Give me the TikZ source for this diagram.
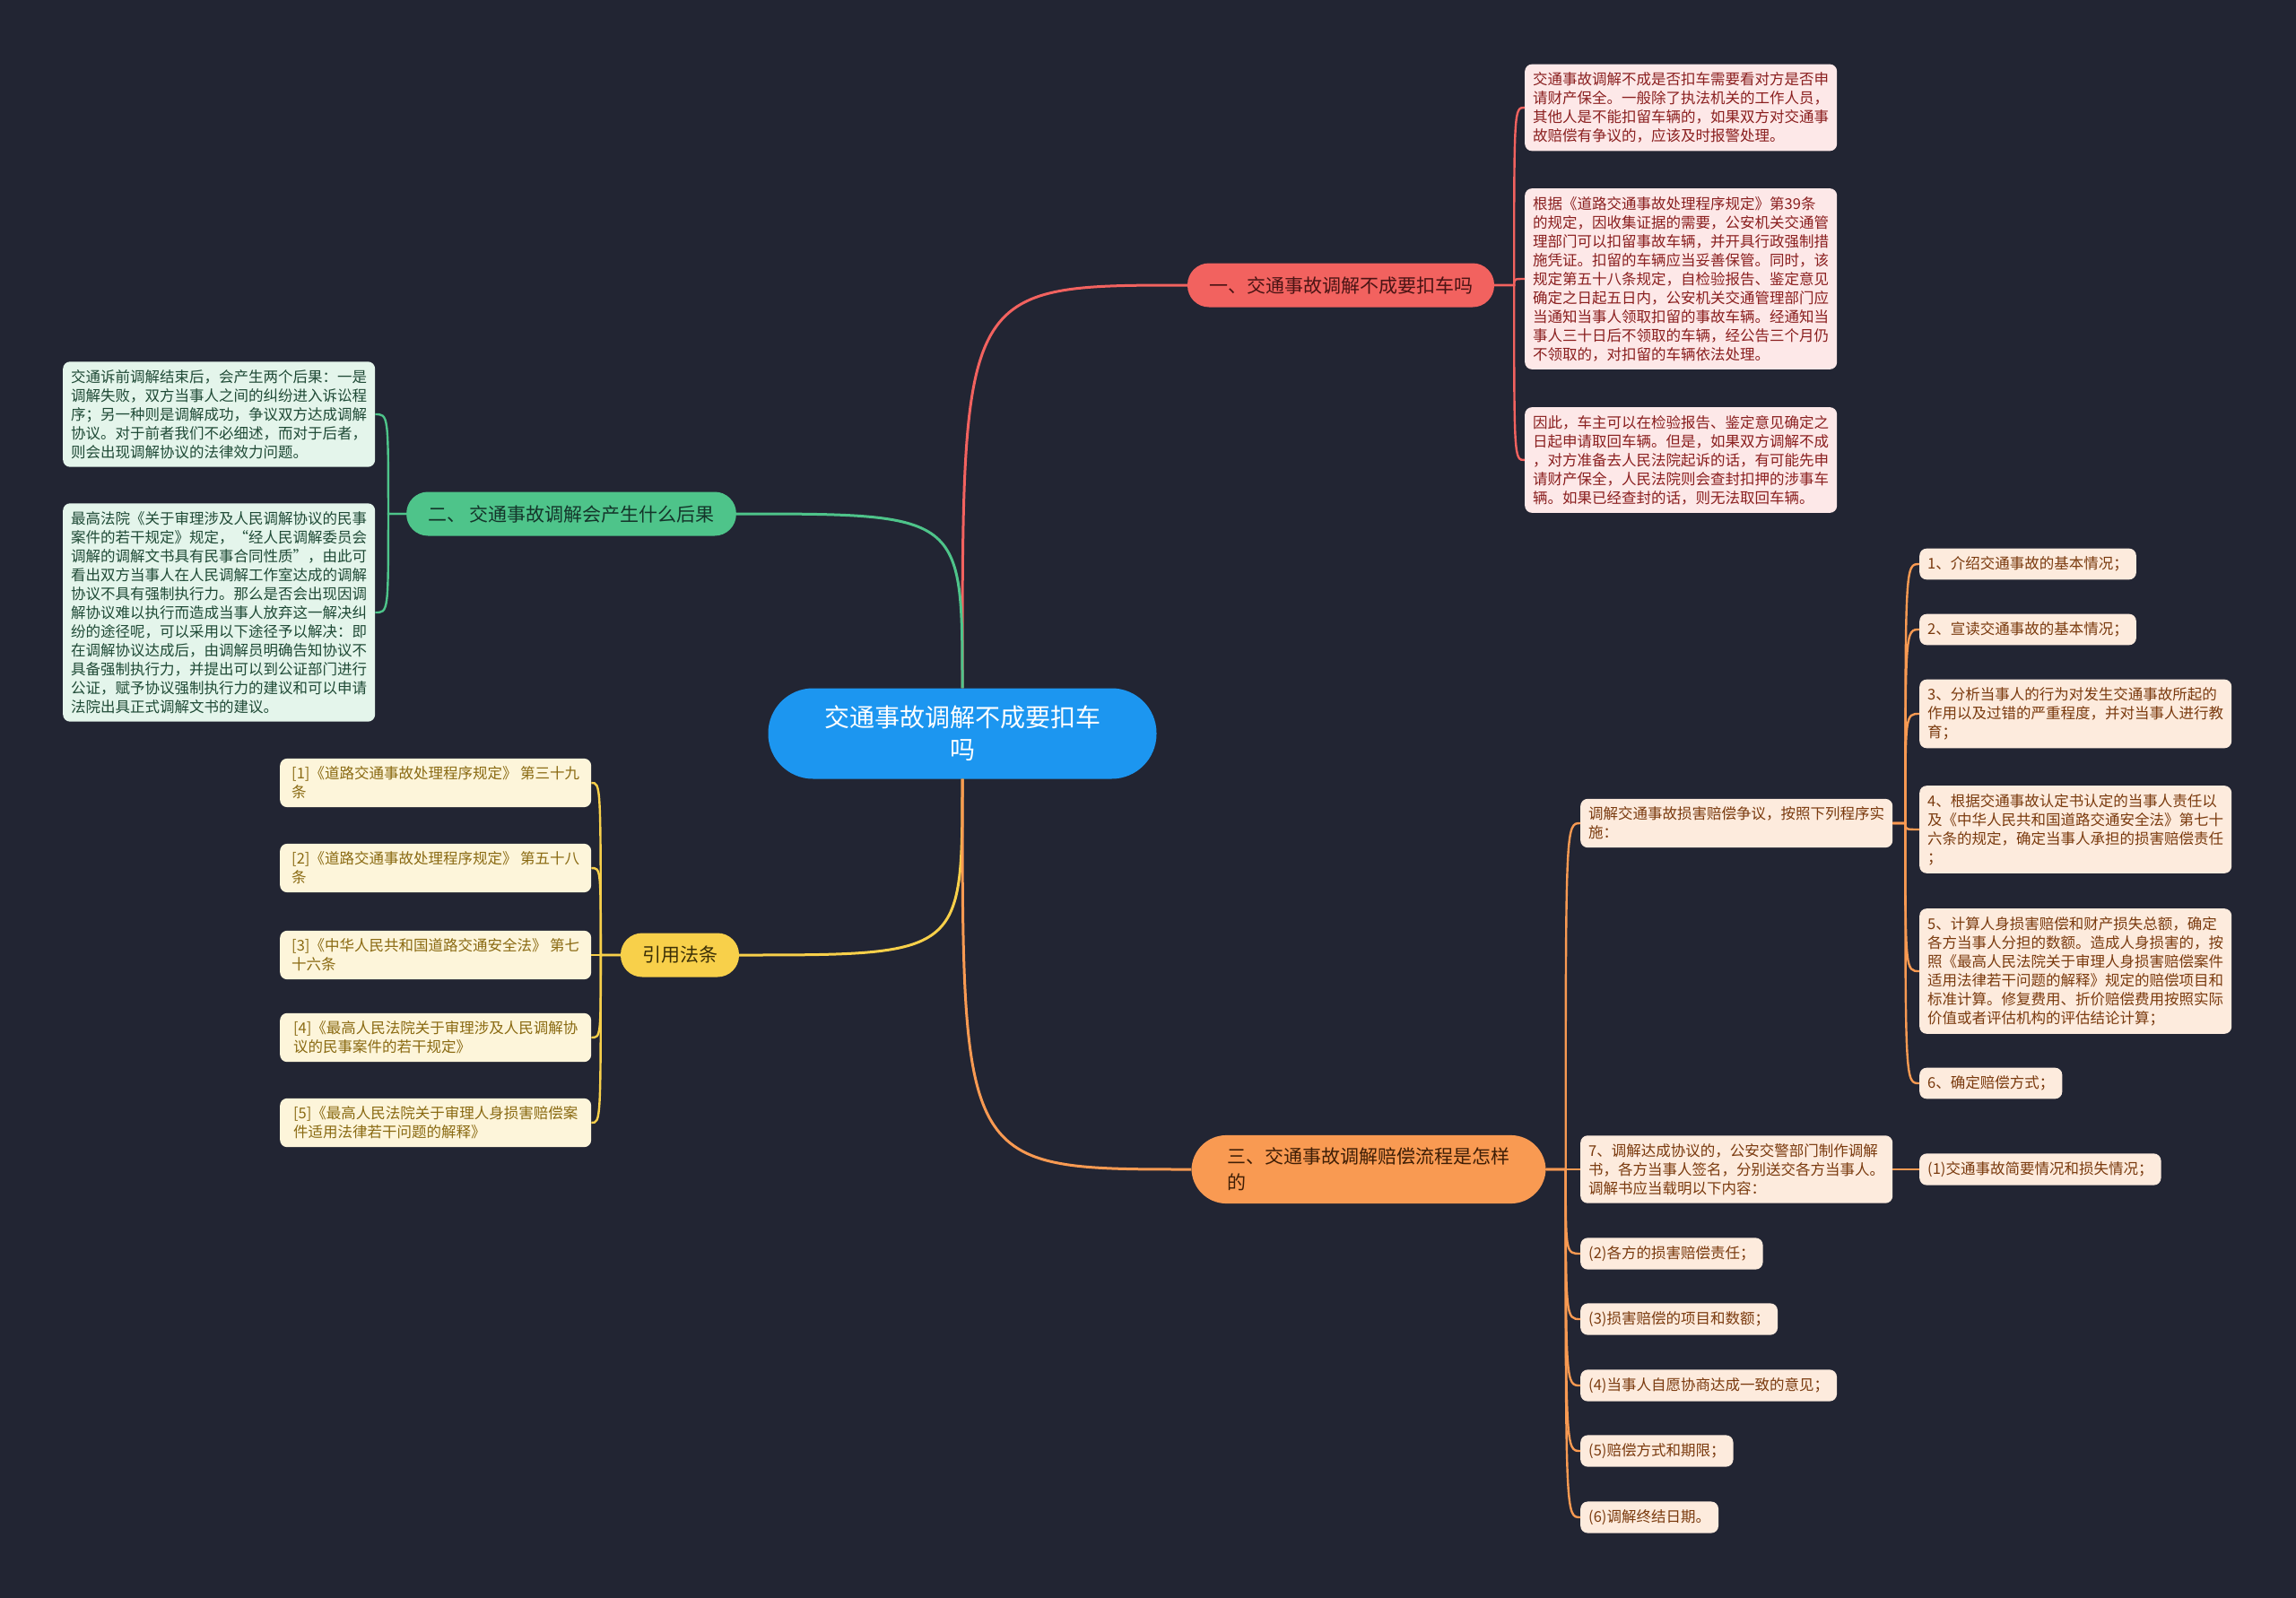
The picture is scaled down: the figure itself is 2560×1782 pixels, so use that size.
\documentclass[tikz,border=0pt]{standalone}
\usepackage{fontspec}
\usepackage{tikz}
\usetikzlibrary{positioning,calc}
\newfontfamily\cjk{Noto Sans CJK SC}
\definecolor{bgdark}{HTML}{222533}
\definecolor{rootblue}{HTML}{1C96F0}
\definecolor{redmain}{HTML}{F2625F}
\definecolor{redlight}{HTML}{FDE8E8}
\definecolor{redtext}{HTML}{8A1F1F}
\definecolor{reddark}{HTML}{4A1414}
\definecolor{greenmain}{HTML}{4EC48A}
\definecolor{greenlight}{HTML}{E4F5EB}
\definecolor{greentext}{HTML}{1F4A36}
\definecolor{greendark}{HTML}{14352A}
\definecolor{goldmain}{HTML}{F8D04A}
\definecolor{goldlight}{HTML}{FDF5DA}
\definecolor{goldtext}{HTML}{8A6A12}
\definecolor{golddark}{HTML}{3B2F06}
\definecolor{orangemain}{HTML}{F99A52}
\definecolor{orangelight}{HTML}{FDEBDD}
\definecolor{orangetext}{HTML}{7A3A0E}
\definecolor{orangedark}{HTML}{3E1E06}

\begin{document}
\begin{tikzpicture}[x=1pt,y=-1pt,
  root/.style={fill=rootblue,text=white,rounded corners=50pt,minimum width=433pt,minimum height=101pt,align=center,font=\cjk\fontsize{28}{36}\selectfont},
  branch/.style={rounded corners=24pt,minimum height=49pt,inner xsep=24pt,align=left,font=\cjk\fontsize{21}{29}\selectfont},
  leaf/.style={rounded corners=8pt,inner xsep=9pt,inner ysep=9pt,align=left,anchor=west,font=\cjk\fontsize{16.5}{21}\selectfont},
  wide/.style={leaf,minimum width=347pt},
  redleaf/.style={fill=redlight,text=redtext},
  greenleaf/.style={fill=greenlight,text=greentext},
  goldleaf/.style={fill=goldlight,text=goldtext},
  orangeleaf/.style={fill=orangelight,text=orangetext},
  trunk/.style={line width=3pt},
  link/.style={line width=2.4pt}
]
  \useasboundingbox (0,0) rectangle (2560,1782);
  \fill[bgdark] (0,0) rectangle (2560,1782);

  % centre and main branches
  \node[root] (root) at (1073,818) {交通事故调解不成要扣车\\吗};
  \node[branch,fill=redmain,text=reddark] (b1) at (1495,318) {一、交通事故调解不成要扣车吗};
  \node[branch,fill=greenmain,text=greendark] (b2) at (637,573) {二、\ 交通事故调解会产生什么后果};
  \node[branch,fill=goldmain,text=golddark] (b4) at (758,1065) {引用法条};
  \node[branch,fill=orangemain,text=orangedark,inner xsep=40pt,inner ysep=14pt,rounded corners=39pt] (b3) at (1526,1304) {三、交通事故调解赔偿流程是怎样\\的};

  % branch one
  \node[wide,redleaf] (r1) at (1700,120) {交通事故调解不成是否扣车需要看对方是否申\\请财产保全。一般除了执法机关的工作人员，\\其他人是不能扣留车辆的，如果双方对交通事\\故赔偿有争议的，应该及时报警处理。};
  \node[wide,redleaf] (r2) at (1700,311) {根据《道路交通事故处理程序规定》第39条\\的规定，因收集证据的需要，公安机关交通管\\理部门可以扣留事故车辆，并开具行政强制措\\施凭证。扣留的车辆应当妥善保管。同时，该\\规定第五十八条规定，自检验报告、鉴定意见\\确定之日起五日内，公安机关交通管理部门应\\当通知当事人领取扣留的事故车辆。经通知当\\事人三十日后不领取的车辆，经公告三个月仍\\不领取的，对扣留的车辆依法处理。};
  \node[wide,redleaf] (r3) at (1700,513) {因此，车主可以在检验报告、鉴定意见确定之\\日起申请取回车辆。但是，如果双方调解不成\\，对方准备去人民法院起诉的话，有可能先申\\请财产保全，人民法院则会查封扣押的涉事车\\辆。如果已经查封的话，则无法取回车辆。};

  % branch two
  \node[wide,greenleaf] (g1) at (70,462) {交通诉前调解结束后，会产生两个后果：一是\\调解失败，双方当事人之间的纠纷进入诉讼程\\序；另一种则是调解成功，争议双方达成调解\\协议。对于前者我们不必细述，而对于后者，\\则会出现调解协议的法律效力问题。};
  \node[wide,greenleaf] (g2) at (70,683) {最高法院《关于审理涉及人民调解协议的民事\\案件的若干规定》规定，“经人民调解委员会\\调解的调解文书具有民事合同性质”，由此可\\看出双方当事人在人民调解工作室达成的调解\\协议不具有强制执行力。那么是否会出现因调\\解协议难以执行而造成当事人放弃这一解决纠\\纷的途径呢，可以采用以下途径予以解决：即\\在调解协议达成后，由调解员明确告知协议不\\具备强制执行力，并提出可以到公证部门进行\\公证，赋予协议强制执行力的建议和可以申请\\法院出具正式调解文书的建议。};

  % cited laws
  \node[wide,goldleaf] (yl1) at (312,873) {[1]《道路交通事故处理程序规定》 第三十九\\条};
  \node[wide,goldleaf] (yl2) at (312,968) {[2]《道路交通事故处理程序规定》 第五十八\\条};
  \node[wide,goldleaf] (yl3) at (312,1065) {[3]《中华人民共和国道路交通安全法》 第七\\十六条};
  \node[wide,goldleaf] (yl4) at (312,1157) {[4]《最高人民法院关于审理涉及人民调解协\\议的民事案件的若干规定》};
  \node[wide,goldleaf] (yl5) at (312,1252) {[5]《最高人民法院关于审理人身损害赔偿案\\件适用法律若干问题的解释》};

  % branch three
  \node[wide,orangeleaf] (oa) at (1762,918) {调解交通事故损害赔偿争议，按照下列程序实\\施：};
  \node[wide,orangeleaf] (o7) at (1762,1304) {7、调解达成协议的，公安交警部门制作调解\\书，各方当事人签名，分别送交各方当事人。\\调解书应当载明以下内容：};
  \node[leaf,orangeleaf] (p2) at (1762,1398) {(2)各方的损害赔偿责任；};
  \node[leaf,orangeleaf] (p3) at (1762,1471) {(3)损害赔偿的项目和数额；};
  \node[leaf,orangeleaf] (p4) at (1762,1545) {(4)当事人自愿协商达成一致的意见；};
  \node[leaf,orangeleaf] (p5) at (1762,1618) {(5)赔偿方式和期限；};
  \node[leaf,orangeleaf] (p6) at (1762,1692) {(6)调解终结日期。};
  \node[leaf,orangeleaf] (s1) at (2140,629) {1、介绍交通事故的基本情况；};
  \node[leaf,orangeleaf] (s2) at (2140,702) {2、宣读交通事故的基本情况；};
  \node[leaf,orangeleaf] (s3) at (2140,796) {3、分析当事人的行为对发生交通事故所起的\\作用以及过错的严重程度，并对当事人进行教\\育；};
  \node[leaf,orangeleaf] (s4) at (2140,925) {4、根据交通事故认定书认定的当事人责任以\\及《中华人民共和国道路交通安全法》第七十\\六条的规定，确定当事人承担的损害赔偿责任\\；};
  \node[leaf,orangeleaf] (s5) at (2140,1083) {5、计算人身损害赔偿和财产损失总额，确定\\各方当事人分担的数额。造成人身损害的，按\\照《最高人民法院关于审理人身损害赔偿案件\\适用法律若干问题的解释》规定的赔偿项目和\\标准计算。修复费用、折价赔偿费用按照实际\\价值或者评估机构的评估结论计算；};
  \node[leaf,orangeleaf] (s6) at (2140,1208) {6、确定赔偿方式；};
  \node[leaf,orangeleaf] (q1) at (2140,1304) {(1)交通事故简要情况和损失情况；};

  % main curves
  \draw[trunk,redmain] (root.north) .. controls (root.north |- b1.west) .. (b1.west);
  \draw[trunk,greenmain] (root.north) .. controls (root.north |- b2.east) .. (b2.east);
  \draw[trunk,goldmain] (root.south) .. controls (root.south |- b4.east) .. (b4.east);
  \draw[trunk,orangemain] (root.south) .. controls (root.south |- b3.west) .. (b3.west);

  % spines
  \coordinate (b1s) at ($(b1.east)+(22,0)$);
  \coordinate (b2s) at ($(b2.west)+(-20,0)$);
  \coordinate (b4s) at ($(b4.west)+(-22,0)$);
  \coordinate (b3s) at ($(b3.east)+(22,0)$);
  \coordinate (oas) at ($(oa.east)+(14,0)$);
  \foreach \c in {r1,r2,r3}
    \draw[link,redmain] (b1.east) -- (b1s) .. controls (b1s |- \c.west) .. (\c.west);
  \foreach \c in {g1,g2}
    \draw[link,greenmain] (b2.west) -- (b2s) .. controls (b2s |- \c.east) .. (\c.east);
  \foreach \c in {yl1,yl2,yl3,yl4,yl5}
    \draw[link,goldmain] (b4.west) -- (b4s) .. controls (b4s |- \c.east) .. (\c.east);
  \foreach \c in {oa,o7,p2,p3,p4,p5,p6}
    \draw[link,orangemain] (b3.east) -- (b3s) .. controls (b3s |- \c.west) .. (\c.west);
  \foreach \c in {s1,s2,s3,s4,s5,s6}
    \draw[link,orangemain] (oa.east) -- (oas) .. controls (oas |- \c.west) .. (\c.west);
  \draw[link,orangemain] (o7.east) -- (q1.west);
\end{tikzpicture}
\end{document}
